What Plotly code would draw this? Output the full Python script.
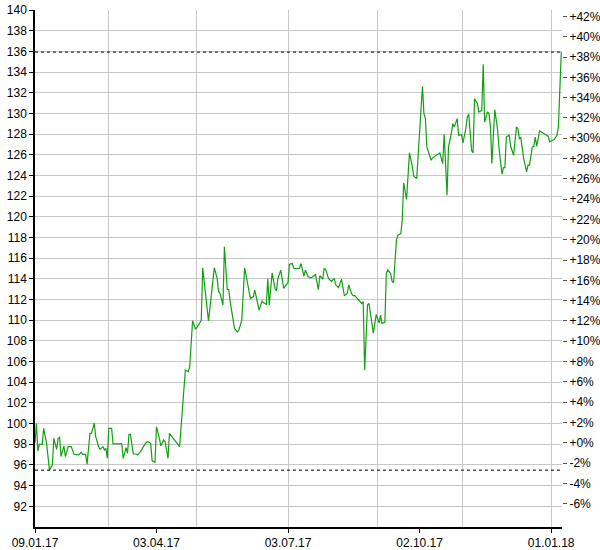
import plotly.graph_objects as go
import pandas as pd

start_date = "2017-01-09"
day_offsets = [
    0, 1, 2, 3, 5, 6, 8, 9, 10, 12, 13, 15, 16, 17, 18, 20, 21, 23, 25, 27,
    29, 30, 32, 33, 35, 36, 38, 39, 41, 42, 44, 45, 47, 48, 49, 50, 51, 53, 54, 60,
    61, 63, 64, 65, 66, 68, 70, 71, 73, 74, 75, 77, 78, 80, 81, 83, 84, 86, 87, 89,
    90, 92, 93, 100, 104, 106, 107, 109, 111, 113, 115, 116, 118, 120, 124, 126, 127, 128, 130, 131,
    133, 134, 135, 138, 140, 141, 143, 145, 149, 151, 152, 155, 157, 158, 160, 161, 162, 164, 166, 167,
    168, 170, 172, 174, 175, 176, 178, 179, 183, 184, 186, 187, 189, 191, 193, 194, 196, 197, 199, 200,
    201, 203, 205, 207, 208, 210, 212, 214, 216, 217, 219, 220, 221, 223, 225, 226, 227, 228, 230, 231,
    234, 236, 238, 239, 240, 242, 243, 244, 246, 247, 248, 250, 251, 253, 254, 255, 257, 259, 261, 262,
    264, 268, 269, 270, 271, 274, 275, 278, 280, 282, 283, 285, 286, 288, 289, 290, 292, 293, 295, 296,
    298, 299, 300, 302, 303, 304, 306, 307, 309, 310, 311, 313, 314, 315, 316, 318, 320, 321, 323, 324,
    325, 326, 328, 329, 331, 333, 334, 335, 336, 338, 340, 341, 342, 344, 345, 346, 347, 349, 351, 353,
    355, 356, 358, 359, 361, 362, 364,
]
prices = [
    98.15, 100.0, 97.35, 98.0, 98.0, 99.54, 98.09, 96.81, 95.5, 96.0, 98.58, 97.51, 98.58, 98.67, 96.81, 97.84, 96.81, 97.77, 97.77, 97.03,
    97.03, 96.97, 97.22, 97.03, 97.03, 96.06, 99.06, 99.06, 100.03, 98.74, 97.77, 97.51, 97.77, 97.45, 97.61, 96.64, 99.54, 99.54, 98.03, 98.03,
    96.64, 97.67, 97.13, 98.96, 98.96, 97.06, 97.06, 96.97, 97.29, 97.61, 97.77, 98.19, 98.25, 98.09, 96.42, 96.26, 99.70, 98.58, 97.84, 98.42,
    98.25, 96.64, 99.06, 97.77, 105.18, 105.02, 105.5, 109.94, 109.14, 109.5, 110.0, 115.07, 112.6, 109.94, 115.07, 114.04, 112.75, 112.6, 111.46, 117.1,
    112.97, 112.97, 111.8, 109.2, 108.88, 109.04, 110.0, 115.07, 112.1, 112.26, 112.9, 110.97, 111.85, 111.7, 111.52, 114.04, 111.46, 114.58, 113.07, 112.84,
    114.04, 114.84, 113.07, 113.55, 113.65, 115.42, 115.48, 115.0, 115.0, 115.48, 114.26, 114.84, 114.2, 114.1, 114.26, 114.42, 112.95, 114.3, 113.97, 115.0,
    114.94, 114.04, 113.76, 114.04, 113.4, 113.17, 113.97, 112.35, 112.6, 113.4, 112.55, 112.36, 112.4, 112.1, 111.7, 111.62, 111.8, 105.18, 111.5, 111.62,
    108.75, 110.55, 109.75, 110.49, 109.69, 109.8, 114.55, 114.87, 114.5, 113.75, 113.62, 117.74, 118.22, 118.38, 119.67, 123.28, 121.67, 126.18, 124.82, 123.92,
    123.7, 132.62, 129.98, 129.5, 126.76, 125.47, 125.7, 125.95, 126.18, 125.15, 127.98, 122.09, 126.76, 128.11, 129.01, 128.7, 129.49, 127.88, 127.95, 127.14,
    128.53, 129.65, 129.91, 126.43, 126.18, 131.43, 130.94, 130.14, 130.3, 134.74, 129.17, 130.14, 129.98, 128.69, 125.15, 130.36, 128.37, 126.5, 124.12, 124.76,
    124.76, 127.72, 127.88, 126.82, 125.95, 128.69, 128.53, 127.56, 127.66, 125.63, 124.34, 124.99, 124.99, 126.76, 126.82, 127.72, 126.82, 128.3, 128.14, 127.98,
    127.79, 127.24, 127.4, 127.47, 127.88, 128.69, 135.93,
]

y_ticks = list(range(92, 141, 2))
pct_ticks = list(range(-6, 43, 2))
label_dates = ["2017-01-09", "2017-04-03", "2017-07-03", "2017-10-02", "2018-01-01"]
label_texts = ["09.01.17", "03.04.17", "03.07.17", "02.10.17", "01.01.18"]
grid_dates = ["2017-03-01", "2017-05-01", "2017-07-03", "2017-09-03", "2017-11-01", "2018-01-01"]
x_range = ["2017-01-09", "2018-01-08 12:00"]
y_range = [90, 140]

dates = pd.Timestamp(start_date) + pd.to_timedelta(day_offsets, unit="D")
base = prices[0]
pct = [(p / base - 1) * 100 for p in prices]
pct_range = [(y_range[0] / base - 1) * 100, (y_range[1] / base - 1) * 100]
pct_text = [("+" if v >= 0 else "") + f"{v}%" for v in pct_ticks]

font = dict(family="Liberation Sans, Arial, sans-serif", size=12, color="#000000")
green = "#12a012"

fig = go.Figure()
fig.add_trace(go.Scatter(x=dates, y=prices, mode="lines",
                         line=dict(color=green, width=1.2), hoverinfo="skip",
                         xaxis="x", yaxis="y"))
fig.add_trace(go.Scatter(x=dates, y=pct, mode="lines",
                         line=dict(color="rgba(0,0,0,0)", width=0), hoverinfo="skip",
                         xaxis="x2", yaxis="y2"))

hi = max(prices)
lo = min(prices)
for v in (hi, lo):
    fig.add_shape(type="line", xref="paper", x0=0, x1=1, yref="y", y0=v, y1=v,
                  line=dict(color="#000000", width=1, dash="dot"), layer="above")

fig.update_layout(
    template="none",
    width=600, height=550,
    margin=dict(l=35, r=38, t=10, b=23, autoexpand=False),
    paper_bgcolor="#ffffff", plot_bgcolor="#ffffff",
    showlegend=False, hovermode=False,
    font=font,
    xaxis=dict(
        type="date", range=x_range, automargin=False,
        tickmode="array", tickvals=label_dates, ticktext=label_texts,
        ticks="outside", ticklen=4, tickcolor="#000000", tickwidth=1,
        showgrid=False, zeroline=False,
        showline=True, linecolor="#000000", linewidth=1.5,
        tickfont=font,
    ),
    xaxis2=dict(
        type="date", overlaying="x", matches="x", anchor="y2", automargin=False,
        tickmode="array", tickvals=grid_dates,
        showticklabels=False, ticks="",
        showgrid=True, gridcolor="#c8c8c8", gridwidth=1,
        zeroline=False, showline=False,
    ),
    yaxis=dict(
        range=y_range, tickmode="array", tickvals=y_ticks, automargin=False,
        ticks="outside", ticklen=4, tickcolor="#000000", tickwidth=1,
        showgrid=True, gridcolor="#c8c8c8", gridwidth=1,
        zeroline=False, showline=True, linecolor="#000000", linewidth=1.5,
        tickfont=font,
    ),
    yaxis2=dict(
        overlaying="y", side="right", anchor="x2", range=pct_range, automargin=False,
        tickmode="array", tickvals=pct_ticks, ticktext=pct_text,
        ticks="outside", ticklen=4, tickcolor="#555555", tickwidth=1,
        showgrid=False, zeroline=False, showline=False,
        tickfont=font,
    ),
)

# remove the browser's default 8px body margin so the 600x550 figure fills the window
fig.write_html("out.html", config={"displayModeBar": False},
               post_script="document.body.style.margin='0';")
